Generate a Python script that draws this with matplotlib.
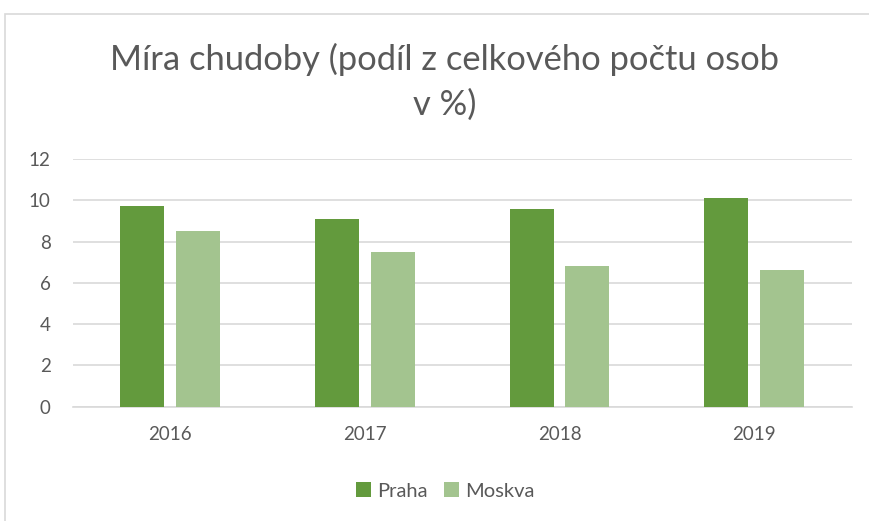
import numpy as np
import matplotlib.pyplot as plt
from matplotlib.patches import Rectangle

# Data
roky = ['2016', '2017', '2018', '2019']
praha = [9.7, 9.1, 9.6, 10.1]
moskva = [8.5, 7.5, 6.8, 6.6]

barva_praha = '#639A3D'
barva_moskva = '#A3C48F'
seda = '#595959'

plt.rcParams['font.family'] = ['Lato', 'DejaVu Sans']

fig = plt.figure(figsize=(8.69, 5.21), dpi=100)
ax = fig.add_axes([0.0837, 0.2194, 0.8963, 0.4754])

# chart border (clipped at right and bottom like the screenshot)
fig.patches.append(Rectangle((5 / 869, -0.1), 1.2, 1 - 14 / 521 + 0.1,
                             transform=fig.transFigure, fill=False,
                             edgecolor='#D9D9D9', linewidth=1.2))

x = np.arange(len(roky))
w = 0.226
ax.bar(x - 0.143, praha, w, color=barva_praha, label='Praha', zorder=3)
ax.bar(x + 0.143, moskva, w, color=barva_moskva, label='Moskva', zorder=3)

ax.set_xlim(-0.5, len(roky) - 0.5)
ax.set_ylim(0, 12)
ax.set_yticks(range(0, 13, 2))
ax.set_xticks(x)
ax.set_xticklabels(roky)
ax.yaxis.grid(True, color='#D9D9D9', linewidth=1.2, zorder=0)
for s in ax.spines.values():
    s.set_visible(False)
ax.spines['bottom'].set_visible(True)
ax.spines['bottom'].set_color('#D9D9D9')
ax.spines['bottom'].set_linewidth(1.2)
ax.tick_params(length=0, labelsize=13.5, labelcolor=seda)
ax.tick_params(axis='x', pad=14)
ax.tick_params(axis='y', pad=16)

fig.text(0.512, 0.843, 'Míra chudoby (podíl z celkového počtu osob\nv %)',
         ha='center', va='center', fontsize=24.8, color=seda,
         linespacing=1.5)

ax.legend(loc='center', bbox_to_anchor=(0.512, 0.0575), bbox_transform=fig.transFigure,
          ncol=2, frameon=False, fontsize=14.5, labelcolor=seda,
          handlelength=0.75, handleheight=0.75, handletextpad=0.3, columnspacing=0.8)

plt.savefig('out.png', dpi=100)
